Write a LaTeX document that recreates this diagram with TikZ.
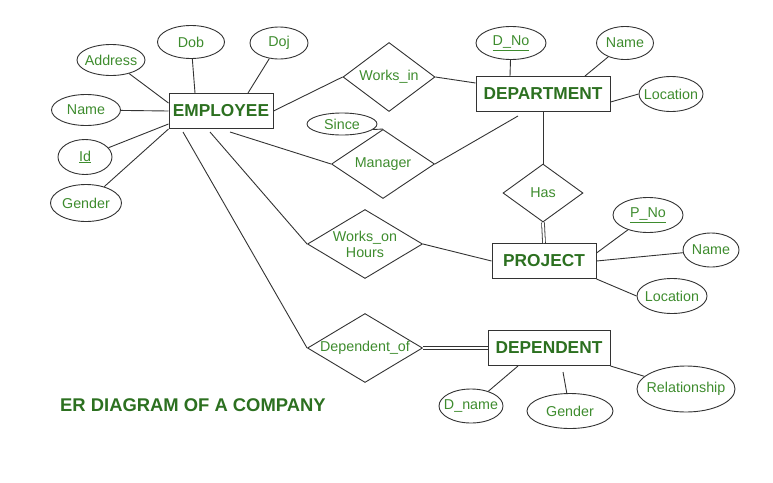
\documentclass[tikz,border=0pt]{standalone}
\usepackage{fontspec}
\setmainfont{Liberation Sans}
\usetikzlibrary{shapes.geometric}
\definecolor{entgreen}{RGB}{44,112,32}
\definecolor{attgreen}{RGB}{62,140,46}
\tikzset{entity/.style={rectangle,draw=black!80,line width=1pt,minimum height=35pt,inner sep=0pt,
                        text=entgreen,font=\fontsize{17.3}{19}\selectfont\bfseries},
         attr/.style={ellipse,draw=black!80,line width=0.9pt,inner xsep=-6pt,inner ysep=0pt,
                      text=attgreen,font=\fontsize{14.3}{16}\selectfont},
         rel/.style={diamond,draw=black!80,line width=0.9pt,inner sep=0pt,
                     text=attgreen,font=\fontsize{14.3}{16}\selectfont},
         link/.style={draw=black!80,line width=0.9pt},
         dbl link/.style={draw=black!80,line width=0.8pt,double,double distance=2pt},
         title/.style={text=entgreen,font=\fontsize{18.4}{20}\selectfont\bfseries,inner sep=0pt,anchor=west},
}
\begin{document}
\begin{tikzpicture}[x=1pt,y=-1pt]
\useasboundingbox (0,0) rectangle (773,482);
% \draw[help lines,step=50] (0,0) grid (773,482);
% entities
\node[entity,minimum width=104pt] (emp) at (221,111) {EMPLOYEE};
\node[entity,minimum width=134pt] (dept) at (543,94) {DEPARTMENT};
\node[entity,minimum width=104pt] (proj) at (544,261) {PROJECT};
\node[entity,minimum width=122pt] (dep) at (549,348) {DEPENDENT};
% relationships
\node[rel,minimum width=92pt,minimum height=69pt,aspect=1.33] (worksin) at (389,77) {Works\_in};
\node[rel,minimum width=103pt,minimum height=69pt,aspect=1.5] (manager) at (383,164) {Manager};
\node[rel,minimum width=80pt,minimum height=58pt,aspect=1.38] (has) at (543,193) {Has};
\node[rel,minimum width=115pt,minimum height=69pt,aspect=1.67,align=center] (workson) at (365,244) {Works\_on\\Hours};
\node[rel,minimum width=115pt,minimum height=69pt,aspect=1.67] (depof) at (365,348) {Dependent\_of};
% attributes
\node[attr,minimum width=68pt,minimum height=31pt] (addr) at (111,60) {Address};
\node[attr,minimum width=67pt,minimum height=33pt] (dob) at (191,42) {Dob};
\node[attr,minimum width=58pt,minimum height=32pt] (doj) at (279,43) {Doj};
\node[attr,minimum width=69pt,minimum height=31pt] (ename) at (86,110) {Name};
\node[attr,minimum width=54pt,minimum height=35pt] (eid) at (85,157) {\underline{Id}};
\node[attr,minimum width=71pt,minimum height=37pt] (egender) at (86,203) {Gender};
\node[attr,minimum width=70pt,minimum height=22pt] (since) at (342,124) {Since};
\node[attr,minimum width=70pt,minimum height=33pt] (dno) at (511,43) {\underline{D\_No}};
\node[attr,minimum width=57pt,minimum height=33pt] (dname) at (625,43) {Name};
\node[attr,minimum width=64pt,minimum height=35pt] (dloc) at (671,94) {Location};
\node[attr,minimum width=70pt,minimum height=35pt] (pno) at (648,215) {\underline{P\_No}};
\node[attr,minimum width=56pt,minimum height=34pt] (pname) at (711,250) {Name};
\node[attr,minimum width=70pt,minimum height=35pt] (ploc) at (672,296) {Location};
\node[attr,minimum width=64pt,minimum height=34pt] (depname) at (471,406) {D\_name};
\node[attr,minimum width=86pt,minimum height=35pt] (depgender) at (570,411) {Gender};
\node[attr,minimum width=98pt,minimum height=46pt] (relship) at (686,389) {Relationship};
\node[title] (ttl) at (60,405) {ER DIAGRAM OF A COMPANY};
% employee links
\draw[link] (addr) -- ([yshift=8pt]emp.west);
\draw[link] (dob) -- ([xshift=-26pt]emp.north);
\draw[link] (doj) -- ([xshift=27pt]emp.north);
\draw[link] (ename) -- (emp.west);
\draw[link] (eid) -- ([yshift=-13pt]emp.west);
\draw[link] (egender) -- (emp.south west);
\draw[link] (emp.east) -- (worksin.west);
\draw[link] ([xshift=9pt,yshift=-3pt]emp.south) -- (manager.west);
\draw[link] ([xshift=-11pt,yshift=-3pt]emp.south) -- (workson.west);
\draw[link] ([xshift=-38pt,yshift=-3pt]emp.south) -- (depof.west);
% department links
\draw[link] (worksin.east) -- ([yshift=11pt]dept.west);
\draw[link] (manager.east) -- ([xshift=-25pt,yshift=-4pt]dept.south);
\draw[link] (since.-10) -- (manager.north);
\draw[link] (dno) -- ([xshift=-33pt]dept.north);
\draw[link] (dname) -- ([xshift=42pt]dept.north);
\draw[link] ([yshift=-8pt]dept.east) -- (dloc.west);
\draw[link] (dept.south) -- (has.north);
% project links
\draw[dbl link] (has.south) -- (proj.north);
\draw[link] (workson.east) -- (proj.west);
\draw[link] (pno) -- ([yshift=8pt]proj.east);
\draw[link] (pname) -- (proj.east);
\draw[link] (proj.south east) -- (ploc.west);
% dependent links
\draw[dbl link] (depof.east) -- (dep.west);
\draw[link] ([xshift=-31pt]dep.south) -- (depname);
\draw[link] ([xshift=14pt,yshift=-6pt]dep.south) -- (depgender);
\draw[link] (dep.south east) -- (relship);
\end{tikzpicture}
\end{document}
